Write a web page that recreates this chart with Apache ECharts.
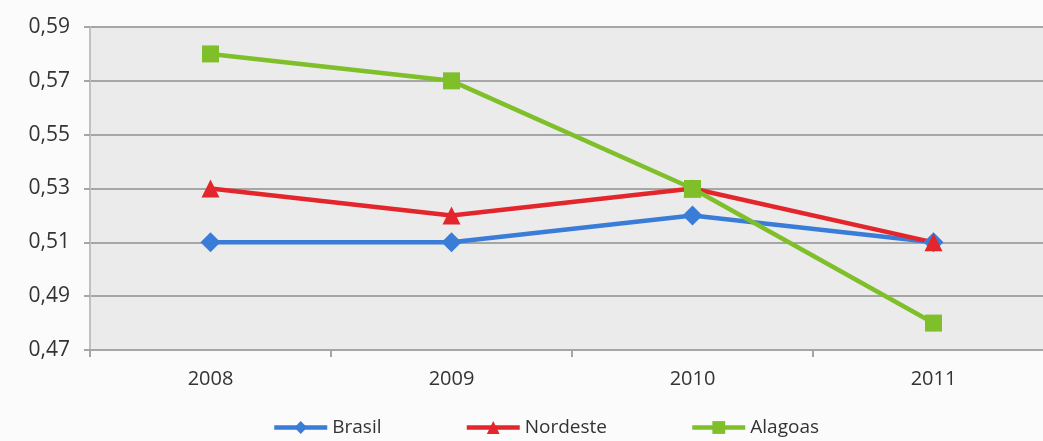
<!DOCTYPE html>
<html>
<head>
<meta charset="utf-8">
<script src="https://cdn.jsdelivr.net/npm/echarts@6/dist/echarts.min.js"></script>
<style>
  html, body { margin: 0; padding: 0; background: #fbfbfb; }
  #chart { width: 1043px; height: 441px; }
</style>
</head>
<body>
<div id="chart"></div>
<script>
const years = ['2008', '2009', '2010', '2011'];
const brasil = [0.51, 0.51, 0.52, 0.51];
const nordeste = [0.53, 0.52, 0.53, 0.51];
const alagoas = [0.58, 0.57, 0.53, 0.48];

const chart = echarts.init(document.getElementById('chart'));
const font = 'Open Sans';

chart.setOption({
    backgroundColor: '#fbfbfb',
    animation: false,
    grid: {
        left: 90,
        right: -11,
        top: 27,
        bottom: 91,
        outerBoundsMode: 'none',
        show: true,
        backgroundColor: '#ebebeb',
        borderWidth: 0,
    },
    legend: {
        top: 413,
        left: 267,
        itemWidth: 53,
        itemHeight: 16,
        itemGap: 83,
        lineStyle: { width: 4.5 },
        textStyle: { fontFamily: font, fontSize: 19, color: '#333' },
        data: ['Brasil', 'Nordeste', 'Alagoas'],
    },
    xAxis: {
        type: 'category',
        data: years,
        boundaryGap: true,
        axisLine: { lineStyle: { color: '#a6a6a6', width: 2 } },
        axisTick: { show: true, length: 7, lineStyle: { color: '#a6a6a6', width: 2 } },
        axisLabel: { fontFamily: font, fontSize: 20, color: '#333', margin: 19 },
        splitLine: { show: false },
    },
    yAxis: {
        type: 'value',
        min: 0.47,
        max: 0.59,
        interval: 0.02,
        axisLine: { show: true, lineStyle: { color: '#c0c0c0', width: 2 } },
        axisTick: { show: true, length: 6, lineStyle: { color: '#a6a6a6', width: 2 } },
        axisLabel: {
            fontFamily: font,
            fontSize: 21,
            color: '#333',
            margin: 20,
            formatter: v => v.toFixed(2).replace('.', ','),
        },
        splitLine: { lineStyle: { color: '#a6a6a6', width: 2 } },
    },
    series: [
        {
            name: 'Brasil',
            type: 'line',
            data: brasil,
            symbol: 'diamond',
            symbolSize: 20,
            color: '#3a7dd8',
            lineStyle: { width: 4.5 },
        },
        {
            name: 'Nordeste',
            type: 'line',
            data: nordeste,
            symbol: 'triangle',
            symbolSize: 18,
            color: '#e3262b',
            lineStyle: { width: 4.5 },
        },
        {
            name: 'Alagoas',
            type: 'line',
            data: alagoas,
            symbol: 'rect',
            symbolSize: 17,
            color: '#7fbf2a',
            lineStyle: { width: 4.5 },
        },
    ],
});
</script>
</body>
</html>
